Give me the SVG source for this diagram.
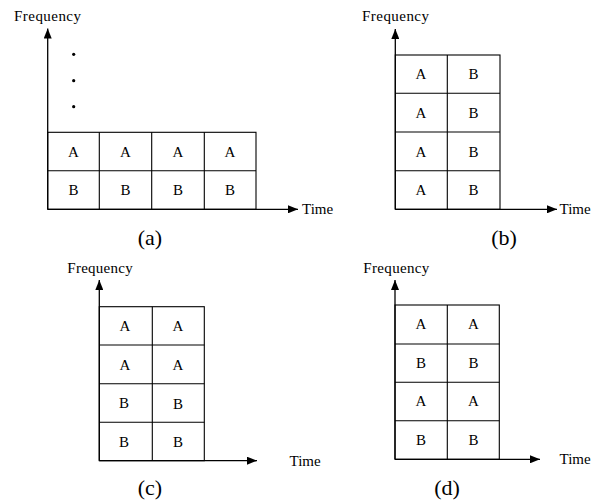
<svg xmlns="http://www.w3.org/2000/svg" width="597" height="500" viewBox="0 0 597 500">
  <style>
    .axis { stroke: #000; stroke-width: 1.3; fill: none; }
    .grid { stroke: #000; stroke-width: 1.1; fill: none; }
    .lbl { font-family: "Liberation Serif", "Times New Roman", serif; font-size: 15px; fill: #000; }
    .cell { font-family: "Liberation Serif", "Times New Roman", serif; font-size: 15px; fill: #000; text-anchor: middle; }
    .cap { font-family: "Liberation Serif", "Times New Roman", serif; font-size: 22px; fill: #000; text-anchor: middle; }
  </style>
  <defs>
    <marker id="arr" viewBox="0 0 10 8" refX="10" refY="4" markerWidth="10" markerHeight="8" markerUnits="userSpaceOnUse" orient="auto">
      <path d="M0,0 L10,4 L0,8 Z" fill="#000"/>
    </marker>
  </defs>

  <!-- (a): four time slots, A above B -->
  <g id="panel-a">
    <rect class="grid" x="47.7" y="132.3" width="208.3" height="77"/>
    <path class="grid" d="M47.7,170.7 H256 M99.3,132.3 V209.3 M151.7,132.3 V209.3 M204.3,132.3 V209.3"/>
    <text class="cell" x="73.5" y="156.5">A</text>
    <text class="cell" x="125.5" y="156.5">A</text>
    <text class="cell" x="178" y="156.5">A</text>
    <text class="cell" x="230" y="156.5">A</text>
    <text class="cell" x="73.5" y="195">B</text>
    <text class="cell" x="125.5" y="195">B</text>
    <text class="cell" x="178" y="195">B</text>
    <text class="cell" x="230" y="195">B</text>
    <circle cx="73.7" cy="54.3" r="1.6"/>
    <circle cx="73.7" cy="80.7" r="1.6"/>
    <circle cx="73.7" cy="106.7" r="1.6"/>
    <text class="lbl" x="14" y="21" textLength="67">Frequency</text>
    <text class="lbl" x="302" y="214">Time</text>
    <text class="cap" x="150" y="245">(a)</text>
  </g>

  <!-- (b): two time slots, four bands each -->
  <g id="panel-b">
    <rect class="grid" x="395.3" y="55" width="104.7" height="154.3"/>
    <path class="grid" d="M395.3,93.3 H500 M395.3,132 H500 M395.3,170.7 H500 M447.3,55 V209.3"/>
    <text class="cell" x="421" y="79">A</text>
    <text class="cell" x="473.5" y="79">B</text>
    <text class="cell" x="421" y="117.5">A</text>
    <text class="cell" x="473.5" y="117.5">B</text>
    <text class="cell" x="421" y="156.5">A</text>
    <text class="cell" x="473.5" y="156.5">B</text>
    <text class="cell" x="421" y="195">A</text>
    <text class="cell" x="473.5" y="195">B</text>
    <text class="lbl" x="362" y="21" textLength="67">Frequency</text>
    <text class="lbl" x="559.5" y="214">Time</text>
    <text class="cap" x="504" y="245">(b)</text>
  </g>

  <!-- (c): A bands on top, B bands below -->
  <g id="panel-c">
    <rect class="grid" x="99.3" y="306.7" width="105" height="154"/>
    <path class="grid" d="M99.3,345 H204.3 M99.3,383.7 H204.3 M99.3,422.3 H204.3 M152.3,306.7 V460.7"/>
    <text class="cell" x="125" y="331">A</text>
    <text class="cell" x="178" y="331">A</text>
    <text class="cell" x="125" y="369.5">A</text>
    <text class="cell" x="178" y="369.5">A</text>
    <text class="cell" x="124" y="408">B</text>
    <text class="cell" x="178" y="409">B</text>
    <text class="cell" x="124" y="446.5">B</text>
    <text class="cell" x="178" y="446.5">B</text>
    <text class="lbl" x="67.3" y="273" textLength="65.4">Frequency</text>
    <text class="lbl" x="289.5" y="466">Time</text>
    <text class="cap" x="150" y="495">(c)</text>
  </g>

  <!-- (d): A and B bands interleaved -->
  <g id="panel-d">
    <rect class="grid" x="395" y="305" width="104.3" height="154.3"/>
    <path class="grid" d="M395,344 H499.3 M395,382.3 H499.3 M395,420.7 H499.3 M447.3,305 V459.3"/>
    <text class="cell" x="421" y="329">A</text>
    <text class="cell" x="473.5" y="329">A</text>
    <text class="cell" x="421" y="368">B</text>
    <text class="cell" x="473.5" y="368">B</text>
    <text class="cell" x="421" y="406">A</text>
    <text class="cell" x="473.5" y="406">A</text>
    <text class="cell" x="421" y="445">B</text>
    <text class="cell" x="473.5" y="445">B</text>
    <text class="lbl" x="363.3" y="273" textLength="66">Frequency</text>
    <text class="lbl" x="559.5" y="464">Time</text>
    <text class="cap" x="447" y="495">(d)</text>
  </g>

  <!-- frequency and time axes -->
  <g id="axes">
    <path class="axis" d="M47.7,209.3 V28.5" marker-end="url(#arr)"/>
    <path class="axis" d="M47.7,209.3 H298" marker-end="url(#arr)"/>
    <path class="axis" d="M395.3,209.3 V29" marker-end="url(#arr)"/>
    <path class="axis" d="M395.3,209.3 H557" marker-end="url(#arr)"/>
    <path class="axis" d="M99.3,460.7 V280" marker-end="url(#arr)"/>
    <path class="axis" d="M99.3,460.7 H257" marker-end="url(#arr)"/>
    <path class="axis" d="M395,459.3 V280" marker-end="url(#arr)"/>
    <path class="axis" d="M395,459.3 H540" marker-end="url(#arr)"/>
  </g>
</svg>
